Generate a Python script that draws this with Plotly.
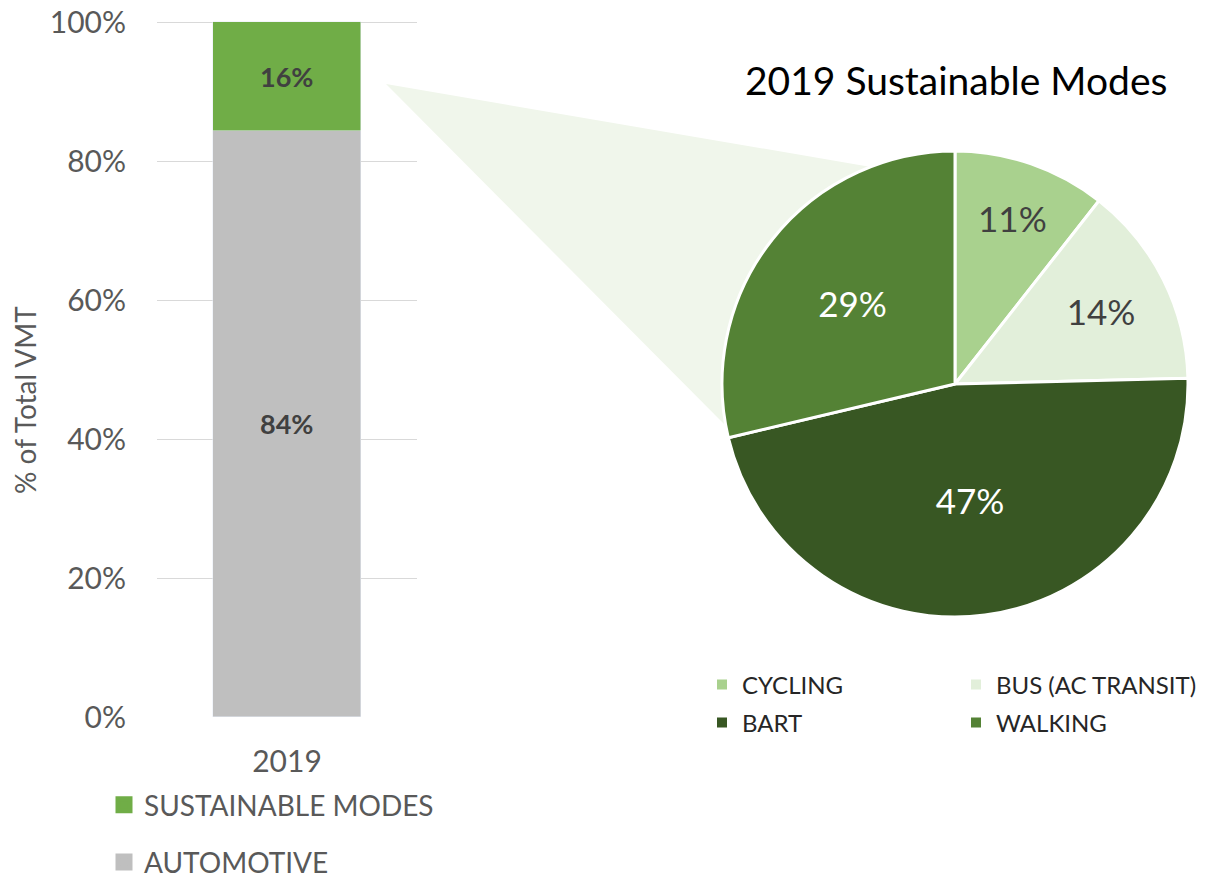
import plotly.graph_objects as go

W, H = 1209, 882

# ---- data ----
years = ["2019"]
automotive = [84.3]
sustainable = [15.7]
bar_series = ["AUTOMOTIVE", "SUSTAINABLE MODES"]
bar_colors = ["#bfbfbf", "#70ad47"]

pie_labels = ["CYCLING", "BUS (AC TRANSIT)", "BART", "WALKING"]
pie_values = [10.6, 14.0, 46.7, 28.7]
pie_colors = ["#a9d18e", "#e2efda", "#385723", "#548235"]
pie_text_colors = ["#404040", "#404040", "#ffffff", "#ffffff"]

y_ticks = [0, 20, 40, 60, 80, 100]
y_tick_text = ["0%", "20%", "40%", "60%", "80%", "100%"]

FONT = "Lato"
GREY = "#595959"


def fx(x):
    return x / W


def fy(y):
    return 1 - y / H


def px(x, y):
    return fx(x), fy(y)


fig = go.Figure()

for vals, name, col, grp in [(automotive, bar_series[0], bar_colors[0], "a"),
                             (sustainable, bar_series[1], bar_colors[1], "s")]:
    fig.add_trace(go.Bar(
        x=years, y=vals, name=name, marker_color=col,
        width=0.569, texttemplate="%{y:.0f}%", textposition="inside",
        insidetextanchor="middle",
        textfont=dict(family=FONT, size=27, color="#404040", weight="bold"),
        legendgroup=grp, showlegend=False,
    ))

# legend entries for the bar chart (bigger swatches, linked to the bars by legendgroup)
for name, col, grp, rank in [(bar_series[1], bar_colors[1], "s", 1),
                             (bar_series[0], bar_colors[0], "a", 2)]:
    fig.add_trace(go.Bar(
        x=[None], y=[None], name=name, xaxis="x2", yaxis="y2",
        marker=dict(color=col, line=dict(color=col, width=5)),
        legendgroup=grp, legendrank=rank, legend="legend",
    ))

CX, CY, R = 955, 384, 233
fig.add_trace(go.Pie(
    labels=pie_labels, values=pie_values, sort=False, direction="clockwise",
    rotation=0, marker=dict(colors=pie_colors, line=dict(color="white", width=3)),
    texttemplate="%{percent:.0%}", textposition="inside",
    insidetextorientation="horizontal",
    textfont=dict(family=FONT, size=35, color=pie_text_colors),
    domain=dict(x=[fx(CX - R), fx(CX + R)], y=[fy(CY + R), fy(CY - R)]),
    showlegend=False, hoverinfo="label+percent",
))

# legend entries for the pie (two rows of two)
for i, (lab, col) in enumerate(zip(pie_labels, pie_colors)):
    fig.add_trace(go.Scatter(
        x=[None], y=[None], mode="markers", name=lab,
        marker=dict(symbol="square", size=10, color=col),
        xaxis="x2", yaxis="y2",
        legend="legend2" if i < 2 else "legend3",
    ))

# callout polygon
ax, ay = px(386, 84)
bx, by = px(900, 172)
cx, cy = px(730, 430)
fig.add_shape(type="path", xref="paper", yref="paper", layer="below",
              path=f"M {ax} {ay} L {bx} {by} L {cx} {cy} Z",
              fillcolor="#f0f6eb", line=dict(width=0))

# titles
tx, ty = px(956, 80)
fig.add_annotation(text="2019 Sustainable Modes", x=tx, y=ty, xref="paper", yref="paper",
                   showarrow=False, xanchor="center", yanchor="middle",
                   font=dict(family=FONT, size=39, color="#000000"))
ytx, yty = px(25, 400)
fig.add_annotation(text="% of Total VMT", x=ytx, y=yty, xref="paper", yref="paper",
                   showarrow=False, textangle=-90, xanchor="center", yanchor="middle",
                   font=dict(family=FONT, size=28, color=GREY))

# y axis: 0..100 spans pixel rows 717..22; a little headroom keeps the 100% grid line
Y_TOP = 100.6
px_per_unit = (717 - 22) / 100
y_dom_top = 717 - Y_TOP * px_per_unit

lx, ly = px(104, 780)
l2x, l2y = px(702, 685)
l3x, l3y = px(702, 723)
legend_common = dict(bgcolor="rgba(0,0,0,0)", borderwidth=0)
fig.update_layout(
    width=W, height=H, margin=dict(l=0, r=0, t=0, b=0, autoexpand=False),
    paper_bgcolor="white", plot_bgcolor="rgba(0,0,0,0)",
    barmode="stack", bargap=0,
    xaxis=dict(domain=[fx(157), fx(417)], type="category", range=[-0.5, 0.5],
               showgrid=False, zeroline=False, showline=False, automargin=False,
               tickfont=dict(family=FONT, size=30, color=GREY), ticklabelstandoff=24),
    yaxis=dict(domain=[fy(717), fy(y_dom_top)], range=[0, Y_TOP], tickvals=y_ticks,
               ticktext=y_tick_text, gridcolor="#d9d9d9", gridwidth=1, zeroline=False,
               showline=False, automargin=False, ticklabeloverflow="allow",
               tickfont=dict(family=FONT, size=30, color=GREY),
               ticklabelstandoff=30),
    xaxis2=dict(domain=[0, 0.01], visible=False),
    yaxis2=dict(domain=[0, 0.01], visible=False, anchor="x2"),
    showlegend=True,
    legend=dict(x=lx, y=ly, xanchor="left", yanchor="top", orientation="v",
                traceorder="grouped", tracegroupgap=18,
                font=dict(family=FONT, size=28, color=GREY), **legend_common),
    legend2=dict(x=l2x, y=l2y, xanchor="left", yanchor="middle", orientation="h",
                 entrywidth=209, entrywidthmode="pixels",
                 font=dict(family=FONT, size=24, color="#262626"), **legend_common),
    legend3=dict(x=l3x, y=l3y, xanchor="left", yanchor="middle", orientation="h",
                 entrywidth=209, entrywidthmode="pixels",
                 font=dict(family=FONT, size=24, color="#262626"), **legend_common),
)

# remove the page's default body margin so the figure fills the window exactly
fig.write_html("out.html", config={"displayModeBar": False},
               post_script="document.body.style.margin='0px';")
